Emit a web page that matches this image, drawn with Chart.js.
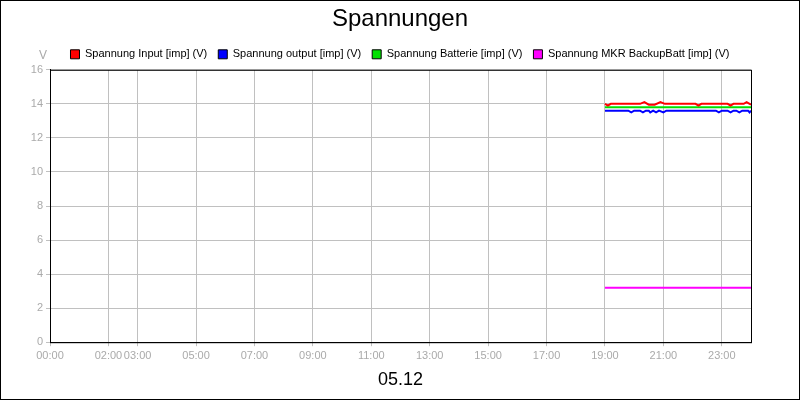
<!DOCTYPE html>
<html><head><meta charset="utf-8">
<script src="https://cdn.jsdelivr.net/npm/chart.js@4"></script>
<style>html,body{margin:0;padding:0;background:#fff}#w{width:798px;height:398px;border:1px solid #000;position:relative}</style>
</head><body><div id="w"><canvas id="c" width="798" height="398"></canvas></div>
<script>
const tickHours=[0,2,3,5,7,9,11,13,15,17,19,21,23];
const yTicks=[0,2,4,6,8,10,12,14,16];
const tInput=[19.0,19.1,19.2,20.2,20.35,20.5,20.7,20.9,21.05,22.1,22.2,22.3,23.2,23.3,23.4,23.75,23.85,24.0];
const vInput=[14.0,13.9,14.0,14.0,14.1,13.95,13.95,14.1,14.0,14.0,13.9,14.0,14.0,13.9,14.0,14.0,14.1,13.95];
const tOutput=[19.0,19.8,19.9,20.0,20.2,20.3,20.4,20.5,20.55,20.65,20.75,20.85,21.0,21.1,22.8,22.9,23.0,23.2,23.3,23.4,23.5,23.6,23.7,23.9,23.95,24.0];
const vOutput=[13.6,13.6,13.5,13.6,13.6,13.5,13.6,13.6,13.5,13.6,13.5,13.6,13.5,13.6,13.6,13.5,13.6,13.6,13.5,13.6,13.6,13.5,13.6,13.6,13.5,13.6];
const tBatt=[19.0,24.0];
const vBatt=[13.8,13.8];
const tMkr=[19.0,24.0];
const vMkr=[3.2,3.2];
const names=["Spannung Input [imp] (V)","Spannung output [imp] (V)","Spannung Batterie [imp] (V)","Spannung MKR BackupBatt [imp] (V)"];
const colors=["#ff0000","#0000ff","#00e000","#ff00ff"];
const pts=(t,v)=>t.map((x,i)=>({x,y:v[i]}));
const series=[pts(tInput,vInput),pts(tOutput,vOutput),pts(tBatt,vBatt),pts(tMkr,vMkr)];
const fmt=h=>String(h).padStart(2,'0')+':00';
Chart.defaults.font.family="'Liberation Sans', Arial, sans-serif";
new Chart(document.getElementById('c'),{
 type:'line',
 data:{datasets:series.map((d,i)=>({label:names[i],data:d,borderColor:colors[i],backgroundColor:colors[i],borderWidth:2,pointRadius:0,tension:0}))},
 options:{responsive:false,animation:false,
  layout:{padding:{left:0,right:0,top:0,bottom:4}},
  plugins:{
   title:{display:true,text:'Spannungen',color:'#000',font:{size:24,weight:'normal'},padding:{top:4,bottom:4}},
   legend:{labels:{boxWidth:9,boxHeight:9,color:'#000',font:{size:11},padding:11,
     generateLabels:c=>c.data.datasets.map((d,i)=>({text:d.label,fillStyle:colors[i],strokeStyle:'#000',lineWidth:1,datasetIndex:i}))}},
   tooltip:{enabled:false}},
  scales:{
   x:{type:'linear',min:0,max:24,
    afterBuildTicks:a=>{a.ticks=tickHours.map(v=>({value:v}));},
    ticks:{autoSkip:false,maxRotation:0,color:'#aaa',font:{size:11},callback:v=>fmt(v)},
    grid:{color:'#c0c0c0',drawTicks:true,tickLength:4},border:{color:'#000',width:1},
    title:{display:true,text:'05.12',color:'#000',font:{size:18},padding:{top:4}}},
   y:{min:0,max:16,afterFit:a=>{a.width=49;},
    afterBuildTicks:a=>{a.ticks=yTicks.map(v=>({value:v}));},
    ticks:{color:'#aaa',font:{size:11},padding:3},
    grid:{color:'#c0c0c0',tickLength:4},border:{color:'#000',width:1}},
   yr:{position:'right',min:0,max:16,afterFit:a=>{a.width=48;},ticks:{display:false},grid:{display:false},border:{display:false}}
  }},
 plugins:[{id:'frame',afterDraw(c){const x=c.ctx,a=c.chartArea;x.save();x.strokeStyle='#000';x.lineWidth=1;
   x.strokeRect(a.left+0.5,a.top+0.5,a.right-a.left,a.bottom-a.top);
   x.fillStyle='#aaa';x.font="12px 'Liberation Sans'";x.textAlign='center';x.fillText('V',a.left-7,a.top-14);x.restore();}}]
});
</script></body></html>
